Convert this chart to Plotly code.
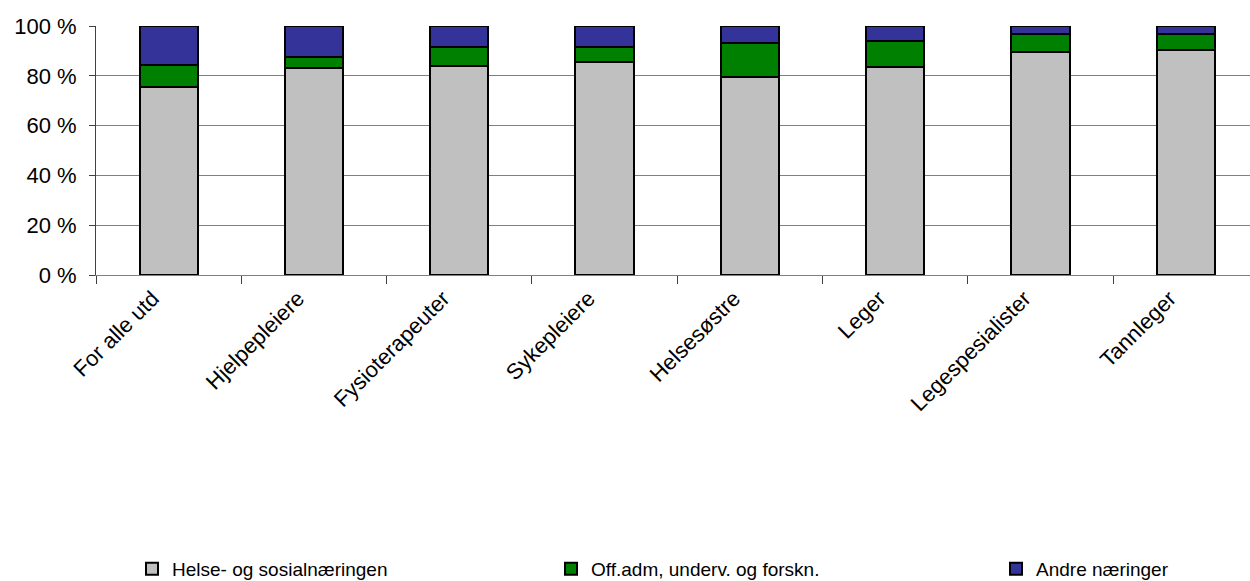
import plotly.graph_objects as go

# Share of employed by industry, per education group (percent)
categories = ["For alle utd", "Hjelpepleiere", "Fysioterapeuter", "Sykepleiere",
              "Helsesøstre", "Leger", "Legespesialister", "Tannleger"]
helse_sosial = [75.6, 83.1, 84.0, 85.5, 79.6, 83.7, 89.6, 90.3]
off_adm = [8.7, 4.6, 7.5, 6.2, 13.5, 10.3, 7.3, 6.5]
andre = [15.7, 12.3, 8.5, 8.3, 6.9, 6.0, 3.1, 3.2]

series_names = ["Helse- og sosialnæringen", "Off.adm, underv. og forskn.", "Andre næringer"]
series_values = [helse_sosial, off_adm, andre]
series_colors = ["#C0C0C0", "#008000", "#333399"]
legend_ids = ["legend", "legend2", "legend3"]
legend_x_px = [132, 551, 996]

FONT = "Arial, Liberation Sans, sans-serif"
W, H = 1250, 581
ML, MT, MB = 96, 26, 306
plot_w = W - ML

fig = go.Figure()
for name, vals, col, lg in zip(series_names, series_values, series_colors, legend_ids):
    fig.add_trace(go.Bar(
        x=categories, y=vals, name=name, legend=lg,
        marker=dict(color=col, line=dict(color="black", width=2)),
        width=0.4,
    ))

# x range trimmed on the right so the category spacing spans past the page edge
cat_px = 145.3
x_max = -0.5 + plot_w / cat_px

layout_legends = {}
plot_h = H - MT - MB
for lg, px in zip(legend_ids, legend_x_px):
    layout_legends[lg] = dict(
        x=(px - ML) / plot_w, xanchor="left",
        y=(H - MB - 569) / plot_h, yanchor="middle",
        orientation="h", bgcolor="rgba(0,0,0,0)",
        font=dict(family=FONT, size=19, color="black"),
        itemwidth=30, tracegroupgap=0,
    )

fig.update_layout(
    width=W, height=H,
    margin=dict(l=ML, r=0, t=MT, b=MB, autoexpand=False),
    barmode="stack",
    plot_bgcolor="white", paper_bgcolor="white",
    font=dict(family=FONT, size=19, color="black"),
    showlegend=True,
    **layout_legends,
)
fig.update_xaxes(
    type="category", range=[-0.5, x_max],
    showline=True, linecolor="#808080", linewidth=1,
    ticks="outside", tickson="boundaries", ticklen=8, tickcolor="#404040",
    tickangle=-45, tickfont=dict(family=FONT, size=22, color="black"),
    ticklabelshift=-16, ticklabelstandoff=1,
    showgrid=False,
)
fig.update_yaxes(
    range=[0, 100], dtick=20, ticksuffix=" %",
    showline=True, linecolor="#404040", linewidth=1,
    ticks="outside", ticklen=6, tickcolor="#404040",
    showgrid=True, gridcolor="#808080", gridwidth=1,
    zeroline=False,
    tickfont=dict(family=FONT, size=22, color="black"),
    ticklabelstandoff=8,
)

fig.write_html("out.html")
